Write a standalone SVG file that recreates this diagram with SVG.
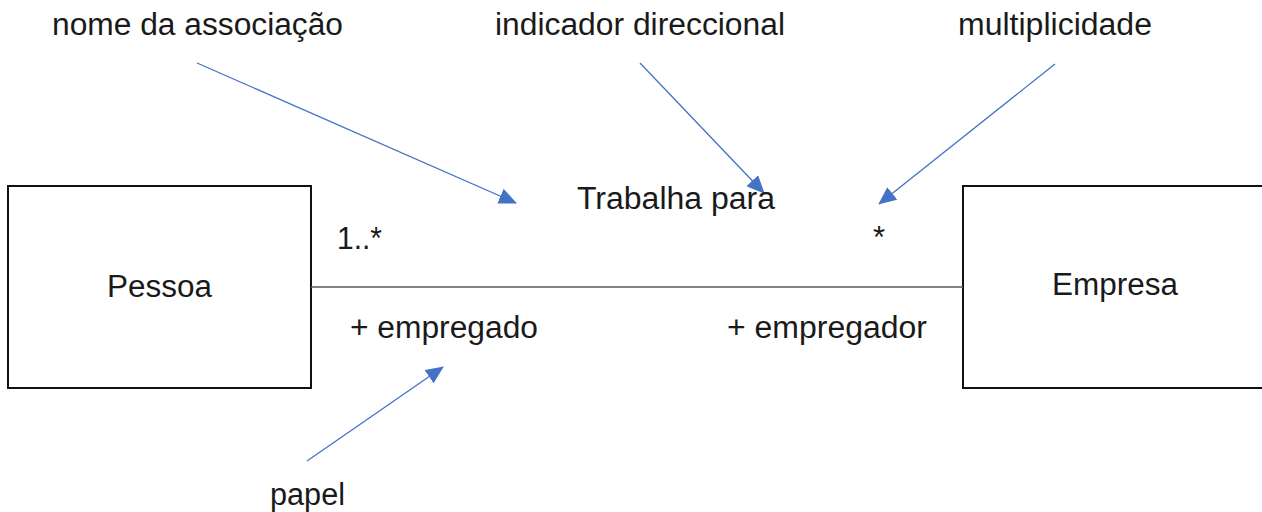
<svg xmlns="http://www.w3.org/2000/svg" width="1262" height="512" viewBox="0 0 1262 512">
<defs>
<style>
text{font-family:"Liberation Sans",Arial,sans-serif;font-size:31px;fill:#1a1a1a}
.box{fill:#fff;stroke:#111;stroke-width:2}
.assoc{stroke:#5a5a5a;stroke-width:1.5;fill:none}
.ptr{stroke:#4472C4;stroke-width:1.3;fill:none;marker-end:url(#ah)}
</style>
<marker id="ah" markerUnits="userSpaceOnUse" markerWidth="18" markerHeight="16" refX="17" refY="8" orient="auto" viewBox="0 0 18 16">
<path d="M0,0 L18,8 L0,16 z" fill="#4472C4"/>
</marker>
</defs>
<rect width="1262" height="512" fill="#fff"/>
<g id="pessoa">
<rect class="box" x="8" y="186" width="303" height="202"/>
<text x="107" y="297" textLength="105" lengthAdjust="spacingAndGlyphs">Pessoa</text>
</g>
<g id="empresa">
<rect class="box" x="963" y="186" width="310" height="202"/>
<text x="1052" y="295" textLength="126" lengthAdjust="spacingAndGlyphs">Empresa</text>
</g>
<g id="connectors">
<line class="assoc" x1="311" y1="287" x2="963" y2="287"/>
<line class="ptr" x1="197" y1="63" x2="516" y2="203"/>
<line class="ptr" x1="640" y1="63" x2="764" y2="193"/>
<line class="ptr" x1="1055" y1="64" x2="879" y2="204"/>
<line class="ptr" x1="307" y1="461" x2="443" y2="367"/>
</g>
<g id="labels">
<text x="52" y="35" textLength="291" lengthAdjust="spacingAndGlyphs">nome da associação</text>
<text x="495" y="35" textLength="290" lengthAdjust="spacingAndGlyphs">indicador direccional</text>
<text x="958" y="35" textLength="194" lengthAdjust="spacingAndGlyphs">multiplicidade</text>
<text x="577" y="209" textLength="198" lengthAdjust="spacingAndGlyphs">Trabalha para</text>
<text x="337" y="249" textLength="45" lengthAdjust="spacingAndGlyphs">1..*</text>
<text x="873" y="248">*</text>
<text x="350" y="338" textLength="188" lengthAdjust="spacingAndGlyphs">+ empregado</text>
<text x="727" y="338" textLength="200" lengthAdjust="spacingAndGlyphs">+ empregador</text>
<text x="270" y="505" textLength="75" lengthAdjust="spacingAndGlyphs">papel</text>
</g>
</svg>
